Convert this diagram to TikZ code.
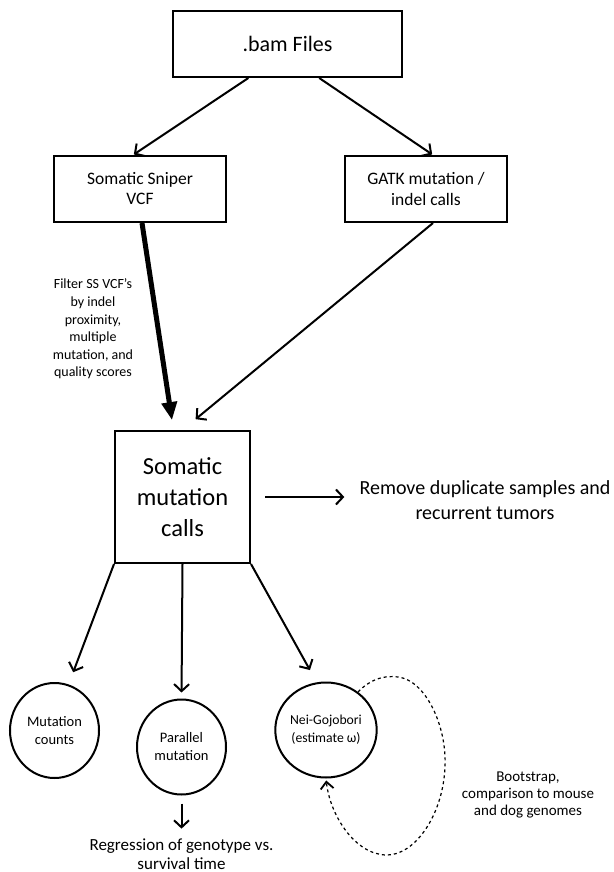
\documentclass[tikz,border=0pt]{standalone}
\usepackage{fontspec}
\setmainfont{Carlito}
\usetikzlibrary{arrows.meta,shapes.geometric}
\begin{document}
\begin{tikzpicture}[x=1pt,y=-1pt,
  box/.style={draw, line width=2pt, align=center, inner sep=0pt},
  blob/.style={draw, ellipse, line width=2pt, align=center, inner sep=0pt,
    minimum width=89pt, minimum height=95pt, font=\fontsize{14.5}{18}\selectfont},
  arr/.style={line width=2pt, -{Straight Barb[length=7pt,width=15pt,line width=2pt]}},
  txt/.style={align=center, inner sep=0pt}]
\useasboundingbox (0,0) rectangle (613,872);
\node[box, minimum width=229pt, minimum height=66pt, font=\fontsize{22}{26}\selectfont] (bam) at (287.5,44) {.bam Files};
\node[box, minimum width=172pt, minimum height=66pt, font=\fontsize{17.5}{20}\selectfont] (sniper) at (140,189) {Somatic Sniper\\VCF};
\node[box, minimum width=162pt, minimum height=66pt, font=\fontsize{17.5}{21}\selectfont] (gatk) at (426,189) {GATK mutation /\\indel calls};
\node[box, minimum width=135pt, minimum height=132pt, font=\fontsize{24.5}{31}\selectfont] (calls) at (182.5,497) {Somatic\\mutation\\calls};
\node[txt, font=\fontsize{20}{25}\selectfont] (rm) at (485,500) {Remove duplicate samples and\\recurrent tumors};
\node[txt, font=\fontsize{14}{17.6}\selectfont] (filt) at (93,329) {Filter SS VCF’s\\by indel\\proximity,\\multiple\\mutation, and\\quality scores};
\node[blob] (cnt) at (54.5,730.5) {Mutation\\counts};
\node[blob] (par) at (181.5,747) {Parallel\\mutation};
\node[blob, font=\fontsize{13.7}{18}\selectfont] (nei) at (326,730) {Nei-Gojobori\\(estimate ω)};
\node[txt, font=\fontsize{17}{18.5}\selectfont] (reg) at (181.5,854) {Regression of genotype vs.\\survival time};
\node[txt, font=\fontsize{15}{17}\selectfont] (boot) at (528,795) {Bootstrap,\\comparison to mouse\\and dog genomes};
\draw[arr, shorten >=1pt] (bam.221) -- ([xshift=-7pt]sniper.north);
\draw[arr, shorten >=1pt] (bam.-47) -- ([xshift=7pt]gatk.north);
\draw[line width=5pt, -{Triangle[length=18pt,width=15pt]}, shorten >=10pt] ([xshift=2pt]sniper.south) -- ([xshift=-9pt]calls.north);
\draw[arr, shorten >=17pt] ([xshift=7pt]gatk.south) -- (calls.north);
\draw[arr, shorten <=14pt, shorten >=15pt] (calls.east) -- (calls.east -| rm.west);
\draw[arr, shorten >=13pt] (calls.south west) -- (cnt.73);
\draw[arr, shorten >=6pt] (calls.south) -- (par.north);
\draw[arr, shorten >=14pt] (calls.south east) -- (nei.101);
\draw[arr, shorten <=8pt, shorten >=10pt] (par.south) -- (reg.north);
\draw[line width=1.2pt, dashed, -{Straight Barb[length=7pt,width=13pt,line width=1.8pt]}, shorten >=2pt]
  (nei.50) .. controls (370,680) and (382,675) .. (398,677)
  .. controls (425,680) and (447,725) .. (445,767)
  .. controls (443,815) and (415,855) .. (387,855)
  .. controls (355,855) and (330,815) .. (nei.south);
\end{tikzpicture}
\end{document}
